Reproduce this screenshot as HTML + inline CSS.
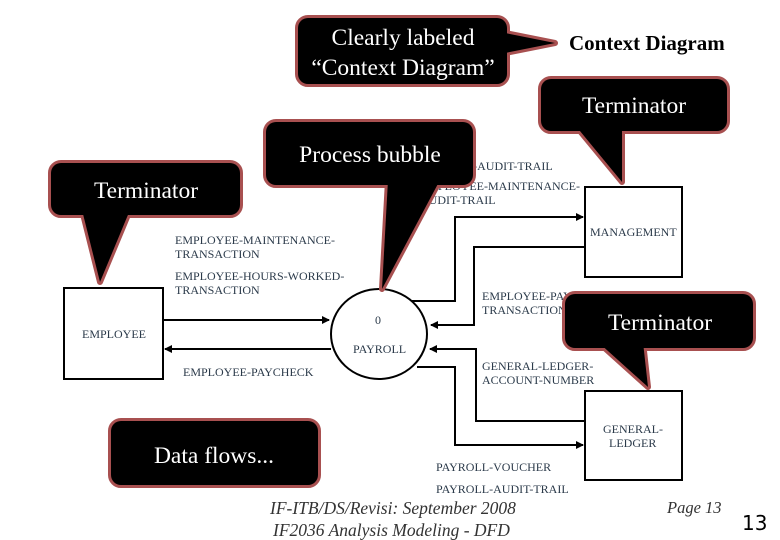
<!DOCTYPE html>
<html><head><meta charset="utf-8"><style>
html,body{margin:0;padding:0;background:#fff;}
svg{display:block;}
.l{font-family:"Liberation Serif",serif;font-size:12px;fill:#2b3a4a;}
.c{font-family:"Liberation Serif",serif;font-size:23.5px;fill:#fff;}
</style></head><body>
<svg width="780" height="540" viewBox="0 0 780 540" xmlns="http://www.w3.org/2000/svg">
<defs><marker id="a" markerWidth="8" markerHeight="8" refX="7" refY="4" orient="auto" markerUnits="userSpaceOnUse"><path d="M0,0 L8,4 L0,8 z" fill="#000"/></marker></defs>
<text class="l" x="420" y="170">PAYROLL-AUDIT-TRAIL</text>
<text class="l" x="420" y="190">EMPLOYEE-MAINTENANCE-</text>
<text class="l" x="420" y="204">AUDIT-TRAIL</text>
<text class="l" x="482" y="300">EMPLOYEE-PAYROLL-</text>
<text class="l" x="482" y="314">TRANSACTION</text>
<g fill="#fff" stroke="#000" stroke-width="2">
<rect x="64" y="288" width="99" height="91"/>
<rect x="585" y="187" width="97" height="90"/>
<rect x="585" y="391" width="97" height="89"/>
<ellipse cx="379" cy="334" rx="48" ry="45"/>
</g>
<g fill="none" stroke="#000" stroke-width="2">
<path d="M412,301 H455 V217 H583" marker-end="url(#a)"/>
<path d="M585,247 H474 V325 H431" marker-end="url(#a)"/>
<path d="M585,421 H476 V349 H430" marker-end="url(#a)"/>
<path d="M417,367 H455 V445 H583" marker-end="url(#a)"/>
<path d="M163,320 H329" marker-end="url(#a)"/>
<path d="M331,349 H165" marker-end="url(#a)"/>
</g>
<text class="l" x="82" y="338">EMPLOYEE</text>
<text class="l" x="590" y="236">MANAGEMENT</text>
<text class="l" x="603" y="433">GENERAL-</text>
<text class="l" x="609" y="447">LEDGER</text>
<text class="l" x="375" y="324">0</text>
<text class="l" x="353" y="353">PAYROLL</text>
<text class="l" x="175" y="244">EMPLOYEE-MAINTENANCE-</text>
<text class="l" x="175" y="258">TRANSACTION</text>
<text class="l" x="175" y="280">EMPLOYEE-HOURS-WORKED-</text>
<text class="l" x="175" y="294">TRANSACTION</text>
<text class="l" x="183" y="376">EMPLOYEE-PAYCHECK</text>
<text class="l" x="482" y="370">GENERAL-LEDGER-</text>
<text class="l" x="482" y="384">ACCOUNT-NUMBER</text>
<text class="l" x="436" y="471">PAYROLL-VOUCHER</text>
<text class="l" x="436" y="493">PAYROLL-AUDIT-TRAIL</text>
<text x="569" y="50" style="font-family:'Liberation Serif',serif;font-size:21px;font-weight:bold" fill="#000">Context Diagram</text>
<g font-family="Liberation Serif,serif" font-style="italic" font-size="17.5" fill="#333">
<text x="270" y="514">IF-ITB/DS/Revisi: September 2008</text>
<text x="273" y="536">IF2036 Analysis Modeling - DFD</text>
<text x="667" y="513" font-size="16.5">Page 13</text>
</g>
<text x="742" y="530" style="font-family:'DejaVu Sans',sans-serif;font-size:20px" fill="#000">13</text>
<g stroke="#a85050" stroke-width="6" stroke-linejoin="round" fill="#000">
<rect x="298" y="18" width="209" height="66" rx="10"/>
<polygon points="500,32 555,43 500,54"/>
<rect x="541" y="79" width="186" height="52" rx="10"/>
<polygon points="575,125 622,125 622,182"/>
<rect x="266" y="122" width="207" height="63" rx="10"/>
<polygon points="388,180 440,180 382,289"/>
<rect x="51" y="163" width="189" height="52" rx="10"/>
<polygon points="82,210 130,210 100,282"/>
<rect x="565" y="294" width="188" height="54" rx="10"/>
<polygon points="598,342 643,342 648,387"/>
<rect x="111" y="421" width="207" height="64" rx="10"/>
</g>
<g fill="#000">
<rect x="298" y="18" width="209" height="66" rx="10"/>
<polygon points="500,32 555,43 500,54"/>
<rect x="541" y="79" width="186" height="52" rx="10"/>
<polygon points="575,125 622,125 622,182"/>
<rect x="266" y="122" width="207" height="63" rx="10"/>
<polygon points="388,180 440,180 382,289"/>
<rect x="51" y="163" width="189" height="52" rx="10"/>
<polygon points="82,210 130,210 100,282"/>
<rect x="565" y="294" width="188" height="54" rx="10"/>
<polygon points="598,342 643,342 648,387"/>
<rect x="111" y="421" width="207" height="64" rx="10"/>
</g>
<text class="c" x="403" y="45" text-anchor="middle">Clearly labeled</text>
<text class="c" x="403" y="75" text-anchor="middle">“Context Diagram”</text>
<text class="c" x="634" y="113" text-anchor="middle">Terminator</text>
<text class="c" x="370" y="162" text-anchor="middle">Process bubble</text>
<text class="c" x="146" y="198" text-anchor="middle">Terminator</text>
<text class="c" x="660" y="330" text-anchor="middle">Terminator</text>
<text class="c" x="214" y="463" text-anchor="middle">Data flows...</text>
</svg>
</body></html>
